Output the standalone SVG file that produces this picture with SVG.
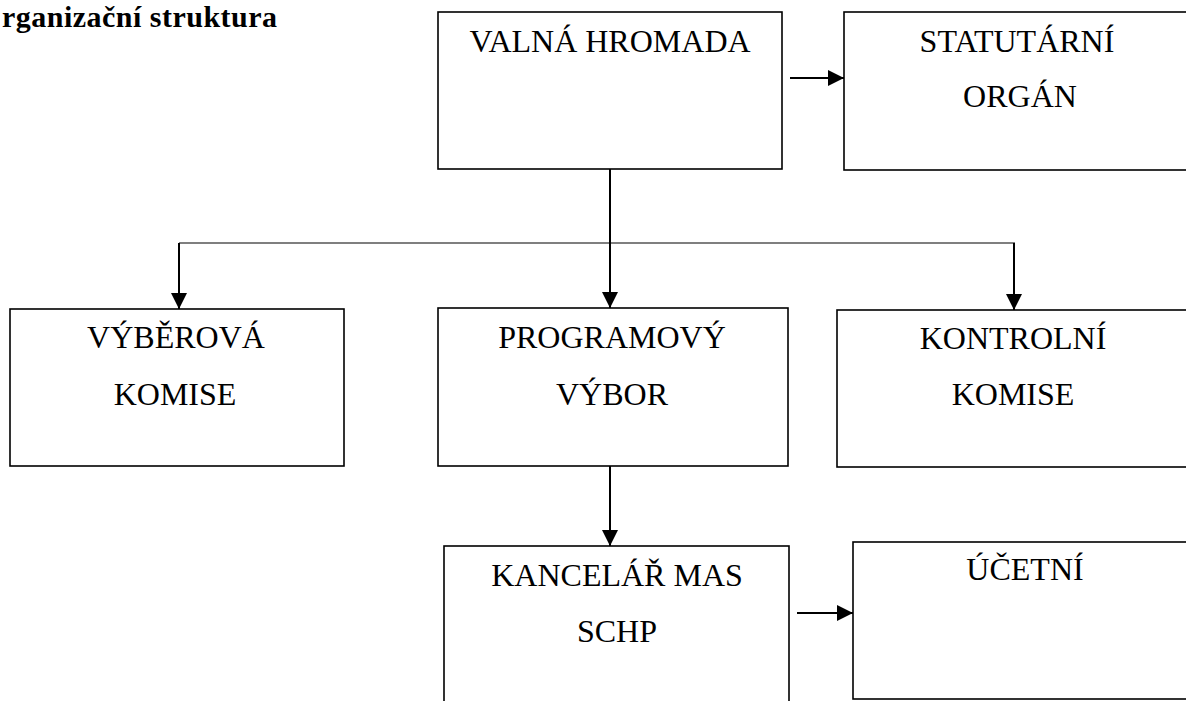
<svg xmlns="http://www.w3.org/2000/svg" width="1186" height="701" viewBox="0 0 1186 701">
<style>
.box{fill:#fff;stroke:#000;stroke-width:1.6}
.t{font-family:"Liberation Serif","Times New Roman",serif;font-size:32px;fill:#000;text-anchor:middle}
.title{font-family:"Liberation Serif","Times New Roman",serif;font-size:30px;font-weight:bold;fill:#000}
.c{fill:none;stroke:#000;stroke-width:2}
.thin{fill:none;stroke:#000;stroke-width:1.2}
</style>
<defs>
<marker id="ah" markerUnits="userSpaceOnUse" markerWidth="16" markerHeight="16" refX="16" refY="8" orient="auto">
<path d="M0,0 L16,8 L0,16 z" fill="#000"/>
</marker>
</defs>
<rect width="1186" height="701" fill="#fff"/>
<text class="title" x="2" y="27" textLength="275" lengthAdjust="spacing">rganizační struktura</text>
<g id="valna-hromada">
<rect class="box" x="438" y="12" width="344" height="157"/>
<text class="t" x="610" y="52">VALNÁ HROMADA</text>
</g>
<g id="statutarni-organ">
<rect class="box" x="844" y="12" width="350" height="158"/>
<text class="t" x="1017" y="52">STATUTÁRNÍ</text>
<text class="t" x="1020" y="107">ORGÁN</text>
</g>
<g id="vyberova-komise">
<rect class="box" x="10" y="309" width="334" height="157"/>
<text class="t" x="176" y="348">VÝBĚROVÁ</text>
<text class="t" x="175" y="405">KOMISE</text>
</g>
<g id="programovy-vybor">
<rect class="box" x="438" y="308" width="350" height="158"/>
<text class="t" x="612" y="348">PROGRAMOVÝ</text>
<text class="t" x="612" y="405">VÝBOR</text>
</g>
<g id="kontrolni-komise">
<rect class="box" x="837" y="310" width="355" height="157"/>
<text class="t" x="1013" y="349">KONTROLNÍ</text>
<text class="t" x="1013" y="405">KOMISE</text>
</g>
<g id="kancelar">
<rect class="box" x="444" y="546" width="345" height="170"/>
<text class="t" x="617" y="586">KANCELÁŘ MAS</text>
<text class="t" x="617" y="642">SCHP</text>
</g>
<g id="ucetni">
<rect class="box" x="853" y="542" width="350" height="157"/>
<text class="t" x="1025" y="580">ÚČETNÍ</text>
</g>
<g id="connectors">
<line class="c" x1="790" y1="78" x2="844" y2="78" marker-end="url(#ah)"/>
<line class="c" x1="610" y1="169" x2="610" y2="308" marker-end="url(#ah)"/>
<line class="thin" x1="179" y1="243" x2="1015" y2="243"/>
<line class="c" x1="179" y1="243" x2="179" y2="309" marker-end="url(#ah)"/>
<line class="c" x1="1014" y1="243" x2="1014" y2="310" marker-end="url(#ah)"/>
<line class="c" x1="610" y1="466" x2="610" y2="546" marker-end="url(#ah)"/>
<line class="c" x1="797" y1="613" x2="853" y2="613" marker-end="url(#ah)"/>
</g>
</svg>
